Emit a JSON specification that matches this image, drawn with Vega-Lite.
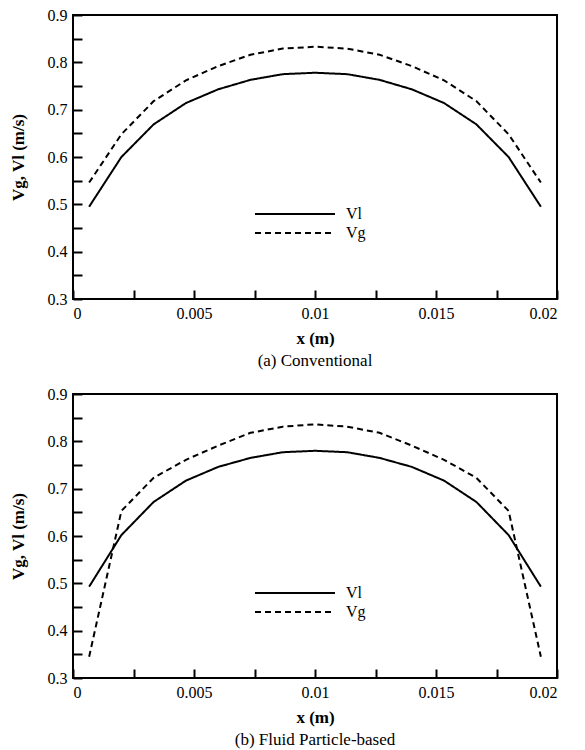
{
  "$schema": "https://vega.github.io/schema/vega-lite/v6.json",
  "padding": {"left": 8, "top": 6, "right": 5, "bottom": 0},
  "background": "white",
  "data": {"values": [
    {"panel": "a", "series": "Vl", "x": 0.000667, "v": 0.495},
    {"panel": "a", "series": "Vl", "x": 0.002, "v": 0.600},
    {"panel": "a", "series": "Vl", "x": 0.003333, "v": 0.669},
    {"panel": "a", "series": "Vl", "x": 0.004667, "v": 0.714},
    {"panel": "a", "series": "Vl", "x": 0.006, "v": 0.743},
    {"panel": "a", "series": "Vl", "x": 0.007333, "v": 0.763},
    {"panel": "a", "series": "Vl", "x": 0.008667, "v": 0.775},
    {"panel": "a", "series": "Vl", "x": 0.01, "v": 0.778},
    {"panel": "a", "series": "Vl", "x": 0.011333, "v": 0.775},
    {"panel": "a", "series": "Vl", "x": 0.012667, "v": 0.763},
    {"panel": "a", "series": "Vl", "x": 0.014, "v": 0.743},
    {"panel": "a", "series": "Vl", "x": 0.015333, "v": 0.714},
    {"panel": "a", "series": "Vl", "x": 0.016667, "v": 0.669},
    {"panel": "a", "series": "Vl", "x": 0.018, "v": 0.600},
    {"panel": "a", "series": "Vl", "x": 0.019333, "v": 0.495},
    {"panel": "a", "series": "Vg", "x": 0.000667, "v": 0.546},
    {"panel": "a", "series": "Vg", "x": 0.002, "v": 0.648},
    {"panel": "a", "series": "Vg", "x": 0.003333, "v": 0.718},
    {"panel": "a", "series": "Vg", "x": 0.004667, "v": 0.762},
    {"panel": "a", "series": "Vg", "x": 0.006, "v": 0.792},
    {"panel": "a", "series": "Vg", "x": 0.007333, "v": 0.816},
    {"panel": "a", "series": "Vg", "x": 0.008667, "v": 0.829},
    {"panel": "a", "series": "Vg", "x": 0.01, "v": 0.833},
    {"panel": "a", "series": "Vg", "x": 0.011333, "v": 0.829},
    {"panel": "a", "series": "Vg", "x": 0.012667, "v": 0.816},
    {"panel": "a", "series": "Vg", "x": 0.014, "v": 0.792},
    {"panel": "a", "series": "Vg", "x": 0.015333, "v": 0.762},
    {"panel": "a", "series": "Vg", "x": 0.016667, "v": 0.718},
    {"panel": "a", "series": "Vg", "x": 0.018, "v": 0.648},
    {"panel": "a", "series": "Vg", "x": 0.019333, "v": 0.546},
    {"panel": "b", "series": "Vl", "x": 0.000667, "v": 0.493},
    {"panel": "b", "series": "Vl", "x": 0.002, "v": 0.602},
    {"panel": "b", "series": "Vl", "x": 0.003333, "v": 0.672},
    {"panel": "b", "series": "Vl", "x": 0.004667, "v": 0.717},
    {"panel": "b", "series": "Vl", "x": 0.006, "v": 0.746},
    {"panel": "b", "series": "Vl", "x": 0.007333, "v": 0.765},
    {"panel": "b", "series": "Vl", "x": 0.008667, "v": 0.777},
    {"panel": "b", "series": "Vl", "x": 0.01, "v": 0.780},
    {"panel": "b", "series": "Vl", "x": 0.011333, "v": 0.777},
    {"panel": "b", "series": "Vl", "x": 0.012667, "v": 0.765},
    {"panel": "b", "series": "Vl", "x": 0.014, "v": 0.746},
    {"panel": "b", "series": "Vl", "x": 0.015333, "v": 0.717},
    {"panel": "b", "series": "Vl", "x": 0.016667, "v": 0.672},
    {"panel": "b", "series": "Vl", "x": 0.018, "v": 0.602},
    {"panel": "b", "series": "Vl", "x": 0.019333, "v": 0.493},
    {"panel": "b", "series": "Vg", "x": 0.000667, "v": 0.345},
    {"panel": "b", "series": "Vg", "x": 0.002, "v": 0.653},
    {"panel": "b", "series": "Vg", "x": 0.003333, "v": 0.723},
    {"panel": "b", "series": "Vg", "x": 0.004667, "v": 0.761},
    {"panel": "b", "series": "Vg", "x": 0.006, "v": 0.791},
    {"panel": "b", "series": "Vg", "x": 0.007333, "v": 0.818},
    {"panel": "b", "series": "Vg", "x": 0.008667, "v": 0.831},
    {"panel": "b", "series": "Vg", "x": 0.01, "v": 0.836},
    {"panel": "b", "series": "Vg", "x": 0.011333, "v": 0.831},
    {"panel": "b", "series": "Vg", "x": 0.012667, "v": 0.818},
    {"panel": "b", "series": "Vg", "x": 0.014, "v": 0.791},
    {"panel": "b", "series": "Vg", "x": 0.015333, "v": 0.761},
    {"panel": "b", "series": "Vg", "x": 0.016667, "v": 0.723},
    {"panel": "b", "series": "Vg", "x": 0.018, "v": 0.653},
    {"panel": "b", "series": "Vg", "x": 0.019333, "v": 0.345}
  ]},
  "spacing": 15,
  "vconcat": [
    {
      "width": 484,
      "height": 284,
      "title": {"text": "(a)  Conventional"},
      "transform": [{"filter": "datum.panel === 'a'"}],
      "mark": {"type": "line", "color": "black", "strokeWidth": 2},
      "encoding": {
        "x": {"field": "x", "type": "quantitative", "title": "x (m)",
              "scale": {"domain": [0, 0.02], "nice": false, "zero": false},
              "axis": {"orient": "bottom", "values": [0, 0.0025, 0.005, 0.0075, 0.01, 0.0125, 0.015, 0.0175, 0.02], "format": "~g",
                       "labelExpr": "round(datum.value*10000)%50==0 ? datum.label : ''",
                       "tickSize": 9, "offset": -9, "labelPadding": 6}},
        "y": {"field": "v", "type": "quantitative", "title": "Vg, Vl (m/s)",
              "scale": {"domain": [0.3, 0.9], "nice": false, "zero": false},
              "axis": {"orient": "left", "values": [0.3, 0.35, 0.4, 0.45, 0.5, 0.55, 0.6, 0.65, 0.7, 0.75, 0.8, 0.85, 0.9], "format": "~g",
                       "labelExpr": "round(datum.value*100)%10==0 ? datum.label : ''",
                       "tickSize": 9, "offset": -9, "labelPadding": 6}},
        "strokeDash": {"field": "series", "type": "nominal",
                       "scale": {"domain": ["Vl", "Vg"], "range": [[1, 0], [6, 4]]},
                       "legend": {"legendX": 211, "legendY": 188}}
      }
    },
    {
      "width": 484,
      "height": 284,
      "title": {"text": "(b)  Fluid Particle-based"},
      "transform": [{"filter": "datum.panel === 'b'"}],
      "mark": {"type": "line", "color": "black", "strokeWidth": 2},
      "encoding": {
        "x": {"field": "x", "type": "quantitative", "title": "x (m)",
              "scale": {"domain": [0, 0.02], "nice": false, "zero": false},
              "axis": {"orient": "bottom", "values": [0, 0.0025, 0.005, 0.0075, 0.01, 0.0125, 0.015, 0.0175, 0.02], "format": "~g",
                       "labelExpr": "round(datum.value*10000)%50==0 ? datum.label : ''",
                       "tickSize": 9, "offset": -9, "labelPadding": 6}},
        "y": {"field": "v", "type": "quantitative", "title": "Vg, Vl (m/s)",
              "scale": {"domain": [0.3, 0.9], "nice": false, "zero": false},
              "axis": {"orient": "left", "values": [0.3, 0.35, 0.4, 0.45, 0.5, 0.55, 0.6, 0.65, 0.7, 0.75, 0.8, 0.85, 0.9], "format": "~g",
                       "labelExpr": "round(datum.value*100)%10==0 ? datum.label : ''",
                       "tickSize": 9, "offset": -9, "labelPadding": 6}},
        "strokeDash": {"field": "series", "type": "nominal",
                       "scale": {"domain": ["Vl", "Vg"], "range": [[1, 0], [6, 4]]},
                       "legend": {"legendX": 211, "legendY": 188}}
      }
    }
  ],
  "resolve": {"scale": {"strokeDash": "independent"}, "legend": {"strokeDash": "independent"}},
  "config": {
    "view": {"stroke": "black", "strokeWidth": 2},
    "axis": {"domain": false, "tickColor": "black", "tickWidth": 2, "ticks": true, "zindex": 1,
             "labelFont": "Liberation Serif", "labelFontSize": 16, "labelColor": "black",
             "titleFont": "Liberation Serif", "titleFontSize": 17, "titleFontWeight": "bold", "titleColor": "black",
             "grid": false},
    "axisY": {"titlePadding": 20},
    "axisX": {"titlePadding": 9},
    "title": {"orient": "bottom", "font": "Liberation Serif", "fontSize": 17, "fontWeight": "normal", "color": "black", "offset": 7, "anchor": "middle"},
    "legend": {"orient": "none", "title": null, "padding": 0, "symbolType": "M-4,0H4", "symbolSize": 400,
               "symbolStrokeWidth": 2, "symbolStrokeColor": "black", "labelFont": "Liberation Serif",
               "labelFontSize": 16, "labelColor": "black", "labelOffset": 40, "rowPadding": 0}
  }
}
